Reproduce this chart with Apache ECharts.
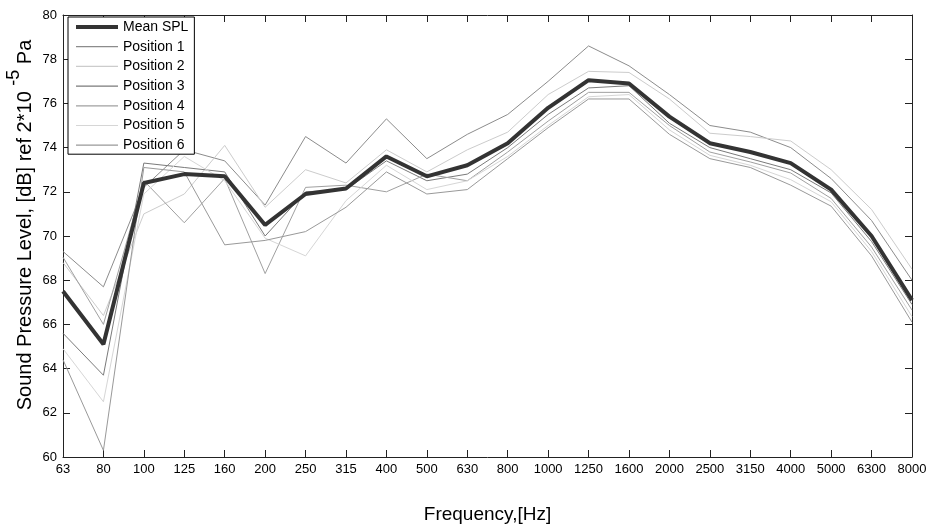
<!DOCTYPE html>
<html>
<head>
<meta charset="utf-8">
<script src="https://cdn.jsdelivr.net/npm/echarts@6/dist/echarts.min.js"></script>
<style>html,body{margin:0;padding:0;background:#fff}#c{width:929px;height:531px}</style>
</head>
<body>
<div id="c"></div>
<script>
const categories = ['63','80','100','125','160','200','250','315','400','500','630','800','1000','1250','1600','2000','2500','3150','4000','5000','6300','8000'];
const yTicks = [60,62,64,66,68,70,72,74,76,78,80];
const meanSPL = [67.5, 65.1, 72.4, 72.8, 72.7, 70.5, 71.9, 72.15, 73.6, 72.7, 73.2, 74.2, 75.8, 77.05, 76.9, 75.4, 74.2, 73.8, 73.3, 72.1, 70.0, 67.1];
const pos1 = [69.3, 67.7, 72.2, 73.9, 73.4, 71.4, 74.5, 73.3, 75.3, 73.5, 74.6, 75.5, 77.0, 78.6, 77.7, 76.4, 75.0, 74.7, 74.0, 72.6, 70.7, 68.0];
const pos2 = [68.8, 66.4, 71.0, 71.9, 74.1, 71.3, 73.0, 72.4, 73.9, 72.9, 73.9, 74.7, 76.4, 77.45, 77.4, 76.2, 74.65, 74.5, 74.3, 73.0, 71.2, 68.5];
const pos3 = [65.6, 63.7, 73.3, 73.1, 72.9, 70.0, 72.0, 72.1, 73.4, 72.5, 72.8, 74.0, 75.5, 76.7, 76.8, 75.1, 74.0, 73.5, 73.0, 71.95, 69.75, 66.9];
const pos4 = [69.04, 66.0, 72.5, 70.6, 72.6, 68.3, 72.2, 72.3, 72.0, 72.8, 72.5, 73.8, 75.2, 76.5, 76.5, 75.0, 73.8, 73.35, 72.85, 71.7, 69.5, 66.65];
const pos5 = [64.9, 62.5, 71.9, 73.6, 72.5, 69.9, 69.1, 71.6, 73.2, 72.1, 72.5, 73.6, 75.0, 76.3, 76.4, 74.8, 73.65, 73.2, 72.55, 71.55, 69.3, 66.35];
const pos6 = [64.4, 60.3, 73.1, 72.9, 69.6, 69.8, 70.2, 71.3, 72.9, 71.9, 72.1, 73.5, 74.9, 76.2, 76.2, 74.6, 73.5, 73.1, 72.3, 71.35, 69.1, 66.1];

const seriesNames = ['Mean SPL','Position 1','Position 2','Position 3','Position 4','Position 5','Position 6'];
const seriesData = [meanSPL, pos1, pos2, pos3, pos4, pos5, pos6];
const seriesColors = ['#333333','#8c8c8c','#cccccc','#7a7a7a','#a0a0a0','#d6d6d6','#999999'];
const seriesWidths = [4,1,1,1,1,1,1];

const font = 'Liberation Sans, Arial, Helvetica, sans-serif';
const chart = echarts.init(document.getElementById('c'), null, {renderer:'canvas'});

const series = [];
for (let i = 0; i < seriesNames.length; i++) {
  series.push({
    name: seriesNames[i], type: 'line', data: seriesData[i],
    symbol: 'none', smooth: false, z: i === 0 ? 10 : 2,
    lineStyle: {color: seriesColors[i], width: seriesWidths[i]},
    itemStyle: {color: seriesColors[i]},
    emphasis: {disabled: true}
  });
}

const legendData = seriesNames.map((n, i) => ({
  name: n,
  icon: i === 0 ? 'path://M0,0L42,0L42,4L0,4Z' : 'path://M0,0L42,0L42,1.2L0,1.2Z'
}));

const tickStyle = {show:true, inside:true, length:7, lineStyle:{color:'#222', width:1}};
const lineStyle = {show:true, lineStyle:{color:'#222', width:1}};

chart.setOption({
  animation: false,
  backgroundColor: '#fff',
  textStyle: {fontFamily: font},
  grid: {left: 63, right: 17, top: 15, bottom: 74, containLabel: false, outerBoundsMode: 'none'},
  legend: {
    show: true,
    data: legendData,
    orient: 'vertical', left: 68, top: 17, z: 20,
    backgroundColor: '#fff', borderColor: '#000', borderWidth: 1, borderRadius: 0,
    padding: [3, 6, 2, 8], itemGap: 5.7, itemWidth: 42, itemHeight: 13,
    symbolKeepAspect: true,
    textStyle: {fontFamily: font, fontSize: 14, color: '#000'},
    selectedMode: false
  },
  xAxis: [
    {type:'category', data: categories, boundaryGap: false, position:'bottom',
     axisLine: lineStyle, axisTick: tickStyle,
     axisLabel: {color:'#000', fontSize: 13, fontFamily: font, margin: 6, interval: 0},
     splitLine: {show:false},
     name: 'Frequency,[Hz]', nameLocation: 'middle', nameGap: 48, nameMoveOverlap: false,
     nameTextStyle: {fontSize: 19, color:'#000', fontFamily: font}},
    {type:'category', data: categories, boundaryGap: false, position:'top',
     axisLine: lineStyle, axisTick: tickStyle, axisLabel: {show:false}, splitLine:{show:false}}
  ],
  yAxis: [
    {type:'value', min: 60, max: 80, interval: 2, position:'left',
     axisLine: lineStyle, axisTick: tickStyle, splitLine: {show:false},
     axisLabel: {color:'#000', fontSize: 13, fontFamily: font, margin: 6},
     name: '{a|Sound Pressure Level, [dB] ref 2*10 }{s|-5}{a| Pa}',
     nameLocation: 'middle', nameGap: 28, nameRotate: 90, nameMoveOverlap: false,
     nameTextStyle: {color:'#000', fontFamily: font, padding: [0, 0, 0, 22],
       rich: {a:{fontSize: 20, color:'#000', fontFamily: font, lineHeight: 30, verticalAlign:'bottom'},
              s:{fontSize: 18, color:'#000', fontFamily: font, lineHeight: 30, verticalAlign:'top'}}}},
    {type:'value', min: 60, max: 80, interval: 2, position:'right',
     axisLine: lineStyle, axisTick: tickStyle, splitLine:{show:false}, axisLabel:{show:false}}
  ],
  series: series
});
</script>
</body>
</html>
